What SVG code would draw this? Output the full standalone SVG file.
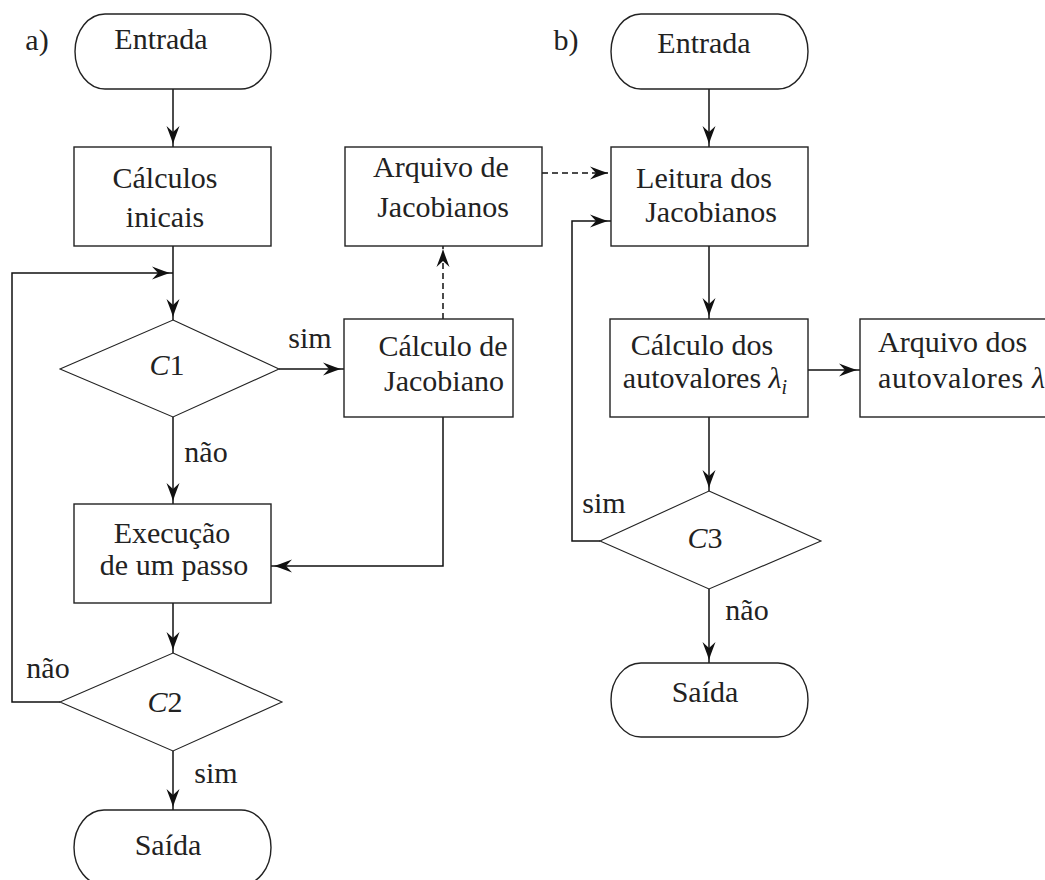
<svg xmlns="http://www.w3.org/2000/svg" width="1045" height="880" viewBox="0 0 1045 880">
<style>
text{font-family:"Liberation Serif","Times New Roman",serif;font-size:30px;fill:#222}
.m{text-anchor:middle}
.i{font-style:italic}
.sh{fill:none;stroke:#222;stroke-width:1.4}
.dm{fill:none;stroke:#222;stroke-width:1.1}
.ln{fill:none;stroke:#111;stroke-width:1.5}
.da{stroke-dasharray:6 4}
</style>
<defs>
<marker id="ah" markerUnits="userSpaceOnUse" markerWidth="30" markerHeight="16" viewBox="-26 -8 30 16" refX="0" refY="0" orient="auto">
<path d="M-3,0 L-9,-2 L-21,-6.5 L-15,0 L-21,6.5 L-9,2 Z" fill="#111"/>
</marker>
</defs>
<rect width="1045" height="880" fill="#fff"/>

<text x="37" y="50" class="m">a)</text>
<text x="566" y="50" class="m">b)</text>

<g id="connectors">
<path class="ln" d="M173,89 V147" marker-end="url(#ah)"/>
<path class="ln" d="M173,246 V320" marker-end="url(#ah)"/>
<path class="ln" d="M279,369 H344" marker-end="url(#ah)"/>
<path class="ln" d="M173,417 V504" marker-end="url(#ah)"/>
<path class="ln" d="M443,417 V566 H271" marker-end="url(#ah)"/>
<path class="ln da" d="M443,319 V246" marker-end="url(#ah)"/>
<path class="ln" d="M173,603 V653" marker-end="url(#ah)"/>
<path class="ln" d="M60,702 H12 V273 H173" marker-end="url(#ah)"/>
<path class="ln" d="M173,751 V810" marker-end="url(#ah)"/>
<path class="ln da" d="M542,173 H611" marker-end="url(#ah)"/>
<path class="ln" d="M709,89 V147" marker-end="url(#ah)"/>
<path class="ln" d="M709,246 V319" marker-end="url(#ah)"/>
<path class="ln" d="M808,370 H860" marker-end="url(#ah)"/>
<path class="ln" d="M709,417 V491" marker-end="url(#ah)"/>
<path class="ln" d="M600,541 H572 V221 H611" marker-end="url(#ah)"/>
<path class="ln" d="M709,589 V663" marker-end="url(#ah)"/>
<text x="310" y="348" class="m">sim</text>
<text x="206" y="462" class="m">não</text>
<text x="48" y="678" class="m">não</text>
<text x="216" y="783" class="m">sim</text>
<text x="604" y="513" class="m">sim</text>
<text x="747" y="620" class="m">não</text>
</g>

<g id="entrada-a">
<rect class="sh" x="75" y="14" width="196" height="75" rx="30" ry="37.5"/>
<text x="161" y="49" class="m">Entrada</text>
</g>
<g id="calculos-iniciais">
<rect class="sh" x="74" y="147" width="197" height="99"/>
<text x="165" y="188" class="m">Cálculos</text>
<text x="165" y="227" class="m">inicais</text>
</g>
<g id="c1">
<path class="dm" d="M173,320 L279,369 L173,417 L60,369 Z"/>
<text x="167" y="375" class="m"><tspan class="i">C</tspan>1</text>
</g>
<g id="calculo-jacobiano">
<rect class="sh" x="344" y="319" width="169" height="98"/>
<text x="443" y="356" class="m">Cálculo de</text>
<text x="444" y="391" class="m">Jacobiano</text>
</g>
<g id="arquivo-jacobianos">
<rect class="sh" x="345" y="147" width="197" height="99"/>
<text x="441" y="177" class="m">Arquivo de</text>
<text x="443" y="217" class="m">Jacobianos</text>
</g>
<g id="execucao">
<rect class="sh" x="74" y="504" width="197" height="99"/>
<text x="172" y="543" class="m">Execução</text>
<text x="174" y="575" class="m">de um passo</text>
</g>
<g id="c2">
<path class="dm" d="M173,653 L282,702 L173,751 L60,702 Z"/>
<text x="165" y="712" class="m"><tspan class="i">C</tspan>2</text>
</g>
<g id="saida-a">
<rect class="sh" x="74" y="810" width="197" height="75" rx="30" ry="37.5"/>
<text x="168" y="855" class="m">Saída</text>
</g>

<g id="entrada-b">
<rect class="sh" x="611" y="14" width="197" height="75" rx="30" ry="37.5"/>
<text x="704" y="53" class="m">Entrada</text>
</g>
<g id="leitura">
<rect class="sh" x="611" y="147" width="197" height="99"/>
<text x="704" y="188" class="m">Leitura dos</text>
<text x="711" y="222" class="m">Jacobianos</text>
</g>
<g id="calculo-autovalores">
<rect class="sh" x="610" y="319" width="198" height="98"/>
<text x="702" y="355" class="m">Cálculo dos</text>
<text x="705" y="388" class="m">autovalores <tspan class="i">λ</tspan><tspan class="i" font-size="20" dy="6">i</tspan></text>
</g>
<g id="arquivo-autovalores">
<rect class="sh" x="860" y="319" width="200" height="98"/>
<text x="878" y="352">Arquivo dos</text>
<text x="878" y="388" textLength="167" lengthAdjust="spacing">autovalores <tspan class="i">λ</tspan></text>
</g>
<g id="c3">
<path class="dm" d="M709,491 L821,541 L709,589 L600,541 Z"/>
<text x="705" y="548" class="m"><tspan class="i">C</tspan>3</text>
</g>
<g id="saida-b">
<rect class="sh" x="611" y="663" width="197" height="74" rx="30" ry="37"/>
<text x="705" y="702" class="m">Saída</text>
</g>
</svg>
